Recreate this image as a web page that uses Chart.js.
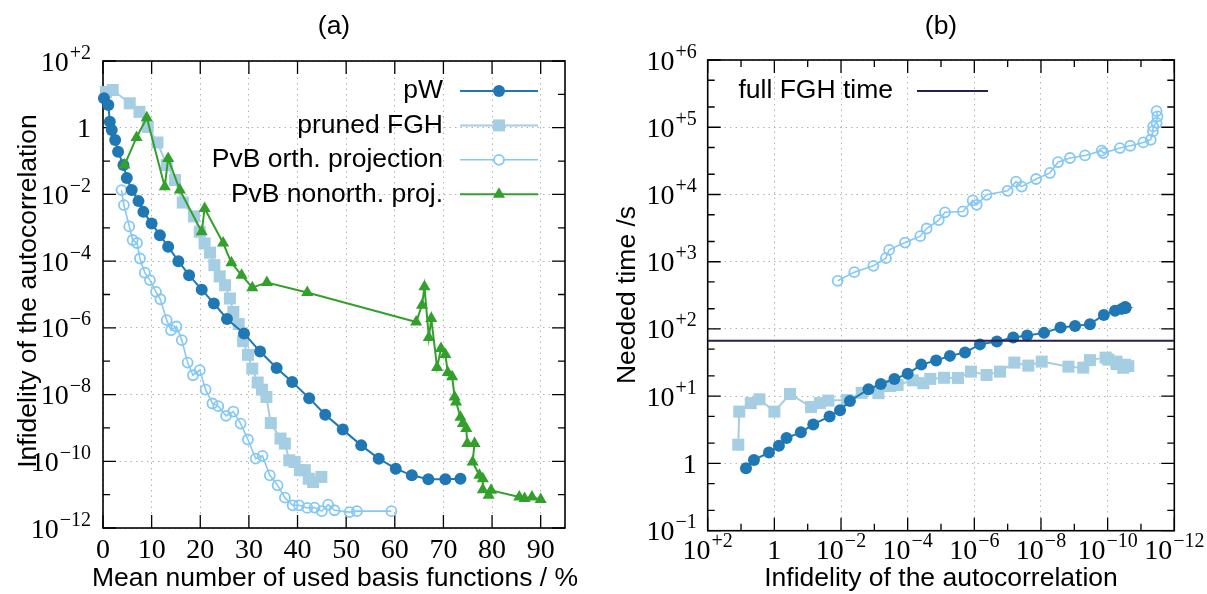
<!DOCTYPE html>
<html>
<head>
<meta charset="utf-8">
<script src="https://cdn.jsdelivr.net/npm/chart.js@4.4.0/dist/chart.umd.min.js"></script>
<style>
  html, body { margin: 0; padding: 0; background: #fff; }
  #wrap { position: relative; width: 1207px; height: 594px; }
  canvas { position: absolute; top: 0; }
  #chartA { left: 0; }
  #chartB { left: 603px; }
</style>
</head>
<body>
<div id="wrap">
  <canvas id="chartA" width="603" height="594"></canvas>
  <canvas id="chartB" width="604" height="594"></canvas>
</div>
<script>
// ---- (a) infidelity vs mean number of used basis functions (%)
const pwPct = [0.2, 1.1, 1.4, 1.8, 2.5, 3.1, 4.2, 4.9, 5.9, 7.3, 8.3, 10.0, 11.7, 13.4, 15.5, 17.7, 20.3, 22.8, 25.5, 29.0, 32.3, 35.7, 38.9, 42.4, 45.7, 49.3, 53.1, 56.7, 60.2, 63.5, 66.9, 70.4, 73.5];
const pwInfid = [7.6, 4.8, 1.5, 0.85, 0.43, 0.19, 0.076, 0.031, 0.0135, 6.3e-3, 3.0e-3, 1.35e-3, 6.0e-4, 2.7e-4, 1.0e-4, 3.8e-5, 1.4e-5, 5.4e-6, 1.85e-6, 6.8e-7, 1.95e-7, 6.3e-8, 2.4e-8, 7.8e-9, 2.5e-9, 8.9e-10, 3.0e-10, 1.2e-10, 6.0e-11, 3.8e-11, 2.9e-11, 2.9e-11, 3.0e-11];

const prunedPct = [0.6, 2.0, 5.5, 7.5, 9.2, 11.2, 13.1, 14.8, 16.4, 18.7, 19.9, 20.9, 22.0, 22.9, 24.0, 25.1, 26.1, 26.8, 27.9, 28.8, 29.8, 30.7, 31.8, 32.7, 33.6, 34.5, 36.5, 37.4, 38.3, 39.4, 40.5, 41.5, 42.3, 43.2, 44.9];
const prunedInfid = [11.7, 13.5, 5.4, 3.0, 1.05, 0.36, 0.076, 0.027, 5.7e-3, 2.2e-3, 7.6e-4, 3.4e-4, 1.8e-4, 7.6e-5, 3.5e-5, 1.9e-5, 7.6e-6, 3.0e-6, 1.3e-6, 4.0e-7, 1.55e-7, 6.0e-8, 2.3e-8, 1.4e-8, 8.5e-9, 1.4e-9, 4.8e-10, 3.4e-10, 1.07e-10, 9.5e-11, 5.4e-11, 5.4e-11, 3.0e-11, 2.4e-11, 3.4e-11];

const orthPct = [3.8, 4.3, 5.4, 6.1, 7.0, 7.6, 8.6, 9.65, 10.9, 11.8, 13.1, 14.0, 15.1, 16.2, 17.4, 18.5, 19.9, 21.1, 22.5, 23.7, 25.3, 26.8, 28.3, 29.8, 31.4, 32.8, 34.3, 35.9, 37.4, 39.0, 40.3, 42.0, 43.5, 45.0, 46.3, 47.6, 50.7, 52.2, 59.3];
const orthInfid = [0.0135, 4.8e-3, 1.1e-3, 4.3e-4, 3.5e-4, 1.2e-4, 4.5e-5, 2.7e-5, 1.2e-5, 7.2e-6, 1.7e-6, 8.5e-7, 1.1e-6, 4.3e-7, 9.1e-8, 3.8e-8, 5.4e-8, 1.4e-8, 5.4e-9, 4.5e-9, 2.3e-9, 3.1e-9, 1.35e-9, 4.5e-10, 1.2e-10, 1.45e-10, 3.8e-11, 1.9e-11, 8.1e-12, 4.8e-12, 4.8e-12, 4.0e-12, 4.1e-12, 3.2e-12, 5.0e-12, 3.4e-12, 3.0e-12, 3.2e-12, 3.2e-12];

const nonorthPct = [4.4, 6.9, 9.0, 12.7, 13.4, 15.8, 20.3, 20.9, 24.7, 26.4, 28.5, 30.7, 33.7, 42.0, 64.4, 65.6, 66.1, 67.0, 67.5, 68.7, 69.5, 70.4, 70.9, 71.8, 72.3, 72.6, 73.5, 74.0, 74.7, 74.9, 76.4, 76.0, 77.4, 78.1, 78.1, 79.3, 79.8, 85.6, 86.7, 88.2, 90.0];
const nonorthInfid = [0.076, 0.51, 2.0, 0.017, 0.12, 0.0135, 7.6e-4, 3.8e-3, 3.5e-4, 8.9e-5, 3.8e-5, 1.6e-5, 2.3e-5, 1.15e-5, 1.5e-6, 4.8e-6, 1.7e-5, 5.1e-7, 1.9e-6, 6.5e-8, 2.4e-7, 1.6e-7, 4.6e-8, 3.4e-8, 8.5e-9, 6.0e-9, 2.1e-9, 1.35e-9, 9.6e-10, 3.4e-10, 3.4e-10, 9.5e-11, 3.8e-11, 3.0e-11, 1.4e-11, 9.6e-12, 1.35e-11, 8.5e-12, 7.6e-12, 8.5e-12, 7.1e-12];

// ---- (b) needed time (s) vs infidelity
const pwTimeInfid = [7.1, 4.1, 1.45, 0.73, 0.43, 0.16, 0.068, 0.022, 0.0107, 5.4e-3, 1.5e-3, 6.4e-4, 2.5e-4, 1.0e-4, 3.9e-5, 1.4e-5, 5.4e-6, 1.9e-6, 6.8e-7, 2.1e-7, 6.8e-8, 2.6e-8, 8.1e-9, 2.6e-9, 9.5e-10, 3.4e-10, 1.3e-10, 6.0e-11, 3.8e-11, 2.9e-11, 2.9e-11, 3.0e-11];
const pwTime = [0.85, 1.13, 1.45, 1.84, 2.4, 2.9, 3.8, 5.0, 6.2, 8.5, 12.7, 15.2, 18, 21.5, 29.5, 33.9, 39.8, 44.6, 59, 65, 74.5, 80, 87.5, 105, 111, 118, 162, 186, 199, 205, 208, 212];

const prunedTimeInfid = [12.1, 11.3, 5.1, 2.8, 1.0, 0.34, 0.079, 0.043, 0.024, 6.7e-3, 2.4e-3, 7.6e-4, 3.4e-4, 2.0e-4, 7.0e-5, 3.4e-5, 2.1e-5, 8.1e-6, 3.1e-6, 1.26e-6, 4.3e-7, 1.7e-7, 6.3e-8, 2.4e-8, 9.5e-9, 1.5e-9, 5.4e-10, 3.4e-10, 1.15e-10, 9.5e-11, 5.4e-11, 5.4e-11, 3.0e-11, 2.4e-11, 3.4e-11];
const prunedTime = [1.9, 5.9, 7.9, 9.0, 5.9, 10.8, 6.9, 7.9, 8.6, 8.8, 11.2, 11.1, 14.2, 14.7, 17.2, 15.6, 18.1, 18.8, 18.7, 23.2, 20.7, 23.2, 31.6, 28.5, 32.7, 27.5, 26.6, 34.4, 37.5, 35, 32.7, 30, 29.3, 28, 26.5];

const orthTimeInfid = [0.0126, 4.0e-3, 1.07e-3, 4.5e-4, 3.6e-4, 1.2e-4, 4.2e-5, 2.7e-5, 1.17e-5, 7.6e-6, 2.2e-6, 1.12e-6, 8.5e-7, 4.3e-7, 1.0e-7, 5.6e-8, 3.8e-8, 1.4e-8, 5.4e-9, 3.1e-9, 1.35e-9, 4.8e-10, 1.5e-10, 1.35e-10, 4.3e-11, 2.1e-11, 8.5e-12, 5.1e-12, 4.4e-12, 4.3e-12, 3.4e-12, 3.2e-12, 3.4e-12];
const orthTime = [520, 700, 869, 1130, 1500, 1930, 2400, 3120, 4160, 5430, 5590, 8150, 7030, 9890, 11350, 15500, 13100, 17000, 20900, 30200, 34900, 38100, 44800, 41300, 49000, 53100, 59500, 65200, 86700, 103000, 116000, 145000, 174000];

const fghTime = 67;   // full FGH time, s

// ---- ticks
const pctTicks = [0, 10, 20, 30, 40, 50, 60, 70, 80, 90];
const infidExpMajor = [2, 0, -2, -4, -6, -8, -10, -12];
const infidExpMinor = [1, -1, -3, -5, -7, -9, -11];
const timeExpMajor = [-1, 0, 1, 2, 3, 4, 5, 6];

const namesA = ['pW', 'pruned FGH', 'PvB orth. projection', 'PvB nonorth. proj.'];
const nameFGH = 'full FGH time';

const C = { pw: '#1f78b4', pruned: '#a6cee3', orth: '#86c8f4', nonorth: '#33a02c', fgh: '#2a1d52' };
const SANS = '"Liberation Sans", Arial, sans-serif';
const SERIF = '"Liberation Serif", "Times New Roman", serif';
const LABEL_FONT = '26.5px ' + SANS;

function pts(xs, ys) { return xs.map((x, i) => ({ x: x, y: ys[i] })); }
const pow10 = e => Math.pow(10, e);

const styles = {
  pw:      { pointStyle: 'circle',   pointRadius: 6,   pointBorderWidth: 0,   fill: true,  lw: 2 },
  pruned:  { pointStyle: 'rect',     pointRadius: 8.5, pointBorderWidth: 0,   fill: true,  lw: 2 },
  orth:    { pointStyle: 'circle',   pointRadius: 5,   pointBorderWidth: 1.8, fill: false, lw: 1.6 },
  nonorth: { pointStyle: 'triangle', pointRadius: 7,   pointBorderWidth: 0,   fill: true,  lw: 2 }
};

function series(key, label, data, order) {
  const s = styles[key];
  return {
    label: label, data: data, showLine: true, order: order, clip: false,
    borderColor: C[key], backgroundColor: C[key], borderWidth: s.lw,
    pointStyle: s.pointStyle, pointRadius: s.pointRadius, pointHoverRadius: s.pointRadius,
    pointBorderColor: C[key], pointBorderWidth: s.pointBorderWidth,
    pointBackgroundColor: s.fill ? C[key] : 'rgba(255,255,255,0)'
  };
}

// 10^{e} tick label, vertically centred on y
function powLabel(ctx, e, x, y, align) {
  ctx.fillStyle = '#000';
  ctx.textBaseline = 'alphabetic';
  const base = y + 9.5;
  if (e === 0) {
    ctx.font = '28px ' + SERIF; ctx.textAlign = align; ctx.fillText('1', x, base);
    return;
  }
  const sup = (e > 0 ? '+' : '\u2212') + Math.abs(e);
  ctx.font = '28px ' + SERIF; const w1 = ctx.measureText('10').width;
  ctx.font = '20px ' + SERIF; const w2 = ctx.measureText(sup).width;
  const total = w1 + w2 + 1;
  const x0 = align === 'right' ? x - total : x - total / 2;
  ctx.textAlign = 'left';
  ctx.font = '28px ' + SERIF; ctx.fillText('10', x0, base);
  ctx.font = '20px ' + SERIF; ctx.fillText(sup, x0 + w1 + 1, base - 12);
}

function marker(ctx, key, x, y) {
  const s = styles[key], r = s.pointRadius;
  ctx.beginPath();
  if (s.pointStyle === 'rect') {
    const h = r * Math.SQRT1_2; ctx.rect(x - h, y - h, 2 * h, 2 * h);
  } else if (s.pointStyle === 'triangle') {
    for (let k = 0; k < 3; k++) {
      const a = -Math.PI / 2 + k * 2 * Math.PI / 3;
      const px = x + r * Math.cos(a), py = y + r * Math.sin(a);
      k ? ctx.lineTo(px, py) : ctx.moveTo(px, py);
    }
    ctx.closePath();
  } else {
    ctx.arc(x, y, r, 0, 2 * Math.PI);
  }
  if (s.fill) { ctx.fillStyle = C[key]; ctx.fill(); }
  else { ctx.fillStyle = '#fff'; ctx.fill(); ctx.strokeStyle = C[key]; ctx.lineWidth = s.pointBorderWidth; ctx.stroke(); }
}

function text(ctx, str, x, y, font, rot) {
  ctx.save();
  ctx.fillStyle = '#000'; ctx.font = font;
  ctx.textAlign = 'center'; ctx.textBaseline = 'middle';
  ctx.translate(x, y); if (rot) ctx.rotate(rot);
  ctx.fillText(str, 0, 0);
  ctx.restore();
}

// gnuplot-like frame: border plus inward ticks on all four sides
function framePlugin(t) {
  return {
    id: 'frame',
    beforeDatasetsDraw(chart) {
      const { ctx, chartArea: a } = chart;
      const xs = chart.scales.x, ys = chart.scales.y;
      ctx.save();
      ctx.strokeStyle = '#000'; ctx.lineWidth = 1.3;
      ctx.beginPath();
      const tx = (v, len) => { const p = xs.getPixelForValue(v); ctx.moveTo(p, a.bottom); ctx.lineTo(p, a.bottom - len); ctx.moveTo(p, a.top); ctx.lineTo(p, a.top + len); };
      const ty = (v, len) => { const p = ys.getPixelForValue(v); ctx.moveTo(a.left, p); ctx.lineTo(a.left + len, p); ctx.moveTo(a.right, p); ctx.lineTo(a.right - len, p); };
      t.xMajor.forEach(v => tx(v, 13)); t.xMinor.forEach(v => tx(v, 7));
      t.yMajor.forEach(v => ty(v, 13)); t.yMinor.forEach(v => ty(v, 7));
      ctx.stroke();
      ctx.lineWidth = 1.6;
      ctx.strokeRect(a.left, a.top, a.right - a.left, a.bottom - a.top);
      ctx.restore();
    },
    afterDraw(chart) { t.draw(chart); }
  };
}

function axisCfg(type, min, max, majors, horizontal, reverse) {
  return {
    type: type, min: min, max: max, reverse: !!reverse,
    grid: { color: '#b4b4b4', lineWidth: 1, drawTicks: false },
    border: { display: false, dash: [1.5, 4] },
    ticks: { display: false },
    afterBuildTicks: s => { s.ticks = majors.map(v => ({ value: v })); },
    afterFit: s => { if (horizontal) s.height = 0; else s.width = 0; }
  };
}

// ---------- panel (a)
new Chart(document.getElementById('chartA'), {
  type: 'scatter',
  data: {
    datasets: [
      series('pw', namesA[0], pts(pwPct, pwInfid), 2),
      series('pruned', namesA[1], pts(prunedPct, prunedInfid), 3),
      series('orth', namesA[2], pts(orthPct, orthInfid), 4),
      series('nonorth', namesA[3], pts(nonorthPct, nonorthInfid), 1)
    ]
  },
  options: {
    responsive: false, animation: false, devicePixelRatio: 1, events: [],
    layout: { padding: { left: 103, right: 38, top: 61, bottom: 66 } },
    plugins: { legend: { display: false }, tooltip: { enabled: false } },
    scales: {
      x: axisCfg('linear', 0, 95, pctTicks, true),
      y: axisCfg('logarithmic', 1e-12, 1e2, infidExpMajor.map(pow10), false)
    }
  },
  plugins: [framePlugin({
    xMajor: pctTicks, xMinor: [],
    yMajor: infidExpMajor.map(pow10), yMinor: infidExpMinor.map(pow10),
    draw(chart) {
      const { ctx, chartArea: a } = chart;
      const xs = chart.scales.x, ys = chart.scales.y;
      ctx.save();
      ctx.fillStyle = '#000'; ctx.font = '28px ' + SERIF;
      ctx.textAlign = 'center'; ctx.textBaseline = 'alphabetic';
      pctTicks.forEach(v => ctx.fillText(String(v), xs.getPixelForValue(v), 558));
      infidExpMajor.forEach(e => powLabel(ctx, e, a.left - 12, ys.getPixelForValue(pow10(e)), 'right'));
      // legend (text right-aligned, sample on the right)
      const keys = ['pw', 'pruned', 'orth', 'nonorth'];
      keys.forEach((k, i) => {
        const y = 91 + i * 34.4;
        ctx.fillStyle = '#000'; ctx.font = LABEL_FONT;
        ctx.textAlign = 'right'; ctx.textBaseline = 'middle';
        ctx.fillText(namesA[i], 443, y);
        ctx.strokeStyle = C[k]; ctx.lineWidth = styles[k].lw;
        ctx.beginPath(); ctx.moveTo(460, y); ctx.lineTo(538, y); ctx.stroke();
        marker(ctx, k, 499, y);
      });
      ctx.restore();
      text(ctx, '(a)', 334, 27, LABEL_FONT);
      text(ctx, 'Mean number of used basis functions / %', 335, 579, LABEL_FONT);
      text(ctx, 'Infidelity of the autocorrelation', 29, 291, LABEL_FONT, -Math.PI / 2);
    }
  })]
});

// ---------- panel (b)
new Chart(document.getElementById('chartB'), {
  type: 'scatter',
  data: {
    datasets: [
      series('pw', namesA[0], pts(pwTimeInfid, pwTime), 2),
      series('pruned', namesA[1], pts(prunedTimeInfid, prunedTime), 3),
      series('orth', namesA[2], pts(orthTimeInfid, orthTime), 4),
      {
        label: nameFGH, data: pts([1e2, 1e-12], [fghTime, fghTime]), showLine: true, order: 1,
        borderColor: C.fgh, borderWidth: 2, pointRadius: 0, clip: true
      }
    ]
  },
  options: {
    responsive: false, animation: false, devicePixelRatio: 1, events: [],
    layout: { padding: { left: 104.7, right: 32.7, top: 60, bottom: 63.3 } },
    plugins: { legend: { display: false }, tooltip: { enabled: false } },
    scales: {
      x: axisCfg('logarithmic', 1e-12, 1e2, infidExpMajor.map(pow10), true, true),
      y: axisCfg('logarithmic', 1e-1, 1e6, timeExpMajor.map(pow10), false)
    }
  },
  plugins: [framePlugin({
    xMajor: infidExpMajor.map(pow10), xMinor: infidExpMinor.map(pow10),
    yMajor: timeExpMajor.map(pow10),
    yMinor: timeExpMajor.slice(0, -1).flatMap(e => [2 * pow10(e), 5 * pow10(e)]),
    draw(chart) {
      const { ctx, chartArea: a } = chart;
      const xs = chart.scales.x, ys = chart.scales.y;
      ctx.save();
      infidExpMajor.forEach(e => powLabel(ctx, e, xs.getPixelForValue(pow10(e)), 549, 'center'));
      timeExpMajor.forEach(e => powLabel(ctx, e, a.left - 11, ys.getPixelForValue(pow10(e)), 'right'));
      ctx.fillStyle = '#000'; ctx.font = LABEL_FONT;
      ctx.textAlign = 'right'; ctx.textBaseline = 'middle';
      ctx.fillText(nameFGH, 290, 91);
      ctx.strokeStyle = C.fgh; ctx.lineWidth = 2;
      ctx.beginPath(); ctx.moveTo(314, 91); ctx.lineTo(385, 91); ctx.stroke();
      ctx.restore();
      text(ctx, '(b)', 338, 27, LABEL_FONT);
      text(ctx, 'Infidelity of the autocorrelation', 338, 579, LABEL_FONT);
      text(ctx, 'Needed time /s', 25, 295, LABEL_FONT, -Math.PI / 2);
    }
  })]
});
</script>
</body>
</html>
